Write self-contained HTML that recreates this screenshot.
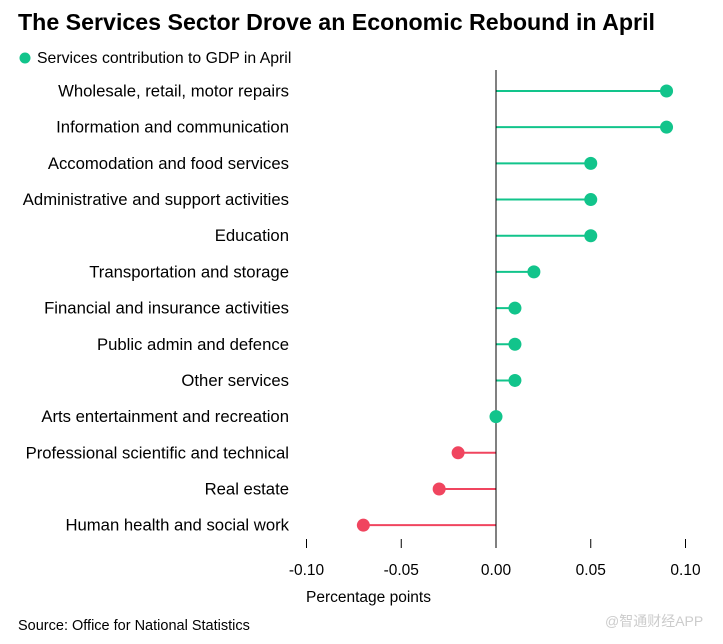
<!DOCTYPE html>
<html><head><meta charset="utf-8"><style>
body{margin:0;background:#fff;width:723px;height:639px;overflow:hidden;font-family:"Liberation Sans",sans-serif;}
</style></head><body>
<svg id="chart" width="723" height="639" xmlns="http://www.w3.org/2000/svg" font-family="Liberation Sans, sans-serif">
<text x="18" y="30" font-size="23.2" font-weight="bold" fill="#000">The Services Sector Drove an Economic Rebound in April</text>
<circle cx="25" cy="58" r="5.5" fill="#12c48b"/>
<text x="37" y="63" font-size="15.8" fill="#000">Services contribution to GDP in April</text>
<g id="marks"></g>
<text x="306" y="602" font-size="15.5" fill="#000">Percentage points</text>
<text x="18" y="630" font-size="14.5" fill="#000">Source: Office for National Statistics</text>
<text x="605" y="626" font-size="14" fill="#ccc" font-family="Liberation Sans, Noto Sans CJK SC, sans-serif">@智通财经APP</text>
</svg>
<script>
const categories=["Wholesale, retail, motor repairs","Information and communication","Accomodation and food services","Administrative and support activities","Education","Transportation and storage","Financial and insurance activities","Public admin and defence","Other services","Arts entertainment and recreation","Professional scientific and technical","Real estate","Human health and social work"];
const values=[0.09,0.09,0.05,0.05,0.05,0.02,0.01,0.01,0.01,0,-0.02,-0.03,-0.07];
const ticks=[-0.10,-0.05,0.00,0.05,0.10];
const tickLabels=["-0.10","-0.05","0.00","0.05","0.10"];
const NS="http://www.w3.org/2000/svg";
const g=document.getElementById('marks');
function x(v){return 496+v*1895;}
function y(i){return 91+i*36.18;}
function mk(t,a){const e=document.createElementNS(NS,t);for(const k in a)e.setAttribute(k,a[k]);g.appendChild(e);return e;}
categories.forEach((c,i)=>{
  const v=values[i];const col=v<0?'#f0455f':'#12c48b';
  const ln=mk('line',{x1:x(0),x2:x(v),y1:y(i),y2:y(i),stroke:col,'stroke-width':2});
  
  
  const t=mk('text',{x:289,y:y(i)+5.5,'text-anchor':'end','font-size':16.7,fill:'#000'});
  t.textContent=c;
  
  
});
const zl=mk('line',{x1:x(0),x2:x(0),y1:70,y2:547,stroke:'#000','stroke-width':1});


categories.forEach((c,i)=>{
  const v=values[i];const col=v<0?'#f0455f':'#12c48b';
  const d=mk('circle',{cx:x(v),cy:y(i),r:6.5,fill:col});
  
  
});
ticks.forEach((tv,i)=>{
  const tl=mk('line',{x1:x(tv),x2:x(tv),y1:539,y2:548,stroke:'#000','stroke-width':1});
  
  
  const t=mk('text',{x:x(tv),y:575,'text-anchor':'middle','font-size':15.5,fill:'#000'});
  t.textContent=tickLabels[i];
  
  
});
</script>
</body></html>
